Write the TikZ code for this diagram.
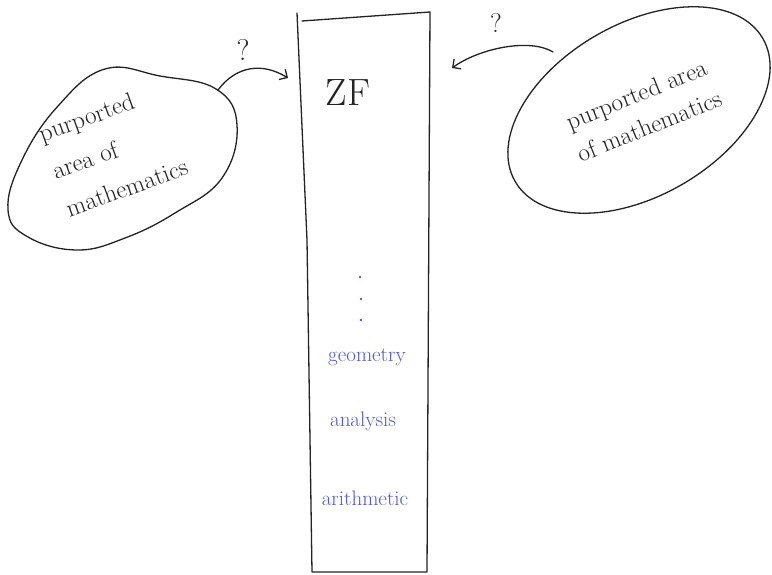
\documentclass[tikz,border=0pt]{standalone}
\usetikzlibrary{arrows.meta,shapes.geometric}
\definecolor{ink}{RGB}{35,35,35}
\definecolor{inkblue}{RGB}{80,90,195}
\begin{document}
\begin{tikzpicture}[x=1pt,y=-1pt,
  pen/.style={draw=ink, line width=1.3pt, line cap=round, line join=round},
  hand/.style={font=\fontsize{25}{40}\selectfont, text=ink, inner sep=0pt},
  bluetext/.style={font=\fontsize{21}{25}\selectfont, text=inkblue, inner sep=0pt},
  qmark/.style={font=\fontsize{30}{36}\selectfont, text=ink, inner sep=0pt},
  link/.style={pen, -{Straight Barb[length=6pt,width=12pt,line width=1.3pt]}}]

\useasboundingbox (0,0) rectangle (772,575);
\fill[white] (0,0) rectangle (772,575);

% the tall column
\coordinate (coltl) at (297,13);
\coordinate (colml) at (307,240);
\coordinate (colbl) at (312,572);
\coordinate (colbr) at (427,572);
\coordinate (coltr) at (430,12);
\coordinate (coltop) at (302,21);
\draw[pen] (coltl) -- (colml) -- (colbl) -- (colbr) -- (coltr) -- (coltop);

\node[font=\fontsize{38}{44}\selectfont, text=ink, inner sep=0pt] (zf) at (348,93) {ZF};

% left blob
\draw[pen] plot[smooth cycle, tension=0.7] coordinates {
  (8,210) (22,160) (58,106) (105,69) (160,76) (216,89) (237,125)
  (222,178) (175,213) (125,238) (77,250) (28,237)};
\node[hand, align=left, rotate=20] (leftarea) at (113,150)
  {purported\\area of\\mathematics};

% right ellipse
\node[pen, ellipse, minimum width=286pt, minimum height=172pt, rotate=30]
  (rightblob) at (639,110) {};
\node[hand, align=center, rotate=22, font=\fontsize{25}{34}\selectfont]
  (rightarea) at (643,110) {purported area\\of mathematics};

% arrows
\coordinate (lstart) at (218,90);
\coordinate (ltip) at (288,78);
\draw[link] (lstart) .. controls (236,66) and (262,62) .. (ltip);
\node[qmark] (lq) at (243,50) {?};

\coordinate (rstart) at (553,52);
\coordinate (rtip) at (452,68);
\draw[link] (rstart) .. controls (530,38) and (480,48) .. (rtip);
\node[qmark, font=\fontsize{27}{32}\selectfont] (rq) at (496,23) {?};

% blue contents
\fill[inkblue] (360,277) circle (1.4pt);
\fill[inkblue] (361,299) circle (1.4pt);
\fill[inkblue] (361,320) circle (1.4pt);
\node[bluetext] (geo) at (367,357) {geometry};
\node[bluetext] (ana) at (363,421) {analysis};
\node[bluetext] (ari) at (365,498) {arithmetic};
\end{tikzpicture}
\end{document}
